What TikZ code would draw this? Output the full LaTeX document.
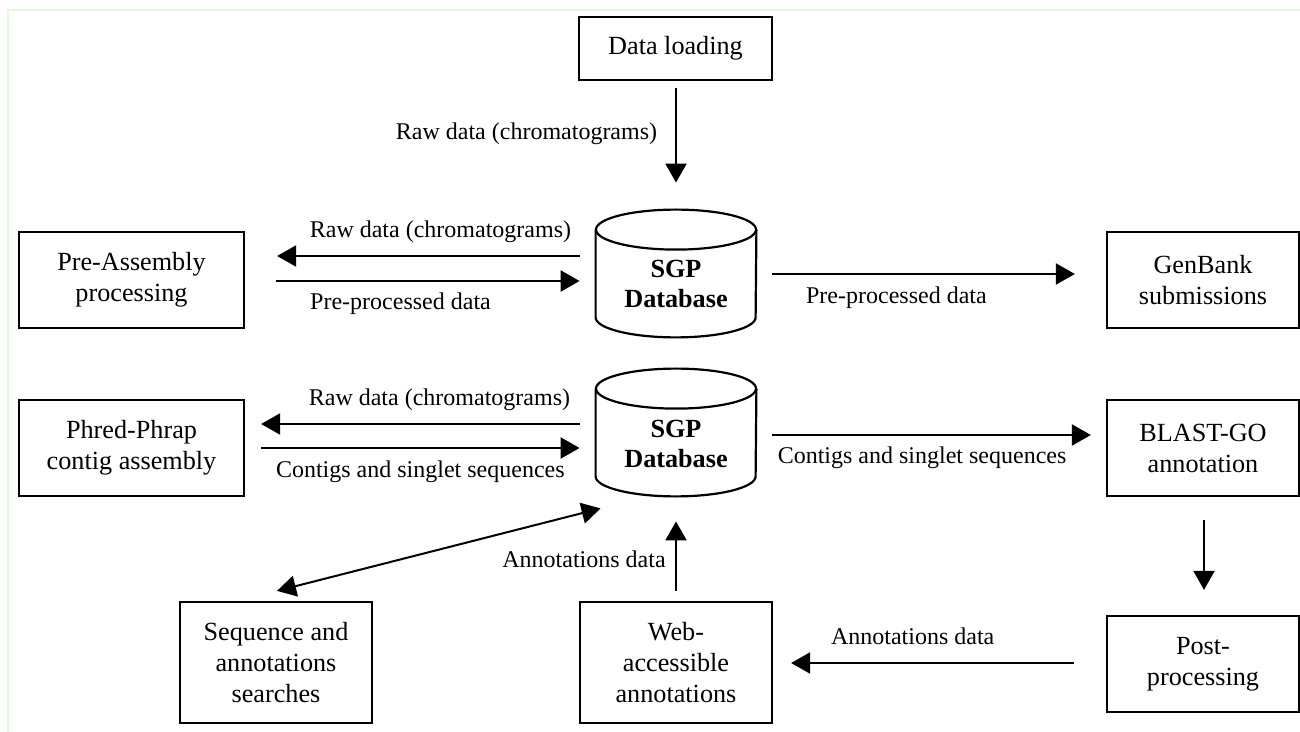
\documentclass[tikz,border=0pt]{standalone}
\usepackage{fontspec}
\setmainfont{Liberation Serif}
\usetikzlibrary{arrows.meta,calc}
\definecolor{framegreen}{HTML}{E2F9DA}
\begin{document}
\begin{tikzpicture}[x=0.5pt,y=-0.5pt,
  box/.style={draw,line width=1.1pt,inner sep=0pt,align=center,
    font=\fontsize{13.1}{15.5}\selectfont},
  dbshape/.style={inner sep=0pt,minimum width=80pt,minimum height=63.5pt},
  dbtext/.style={inner sep=0pt,align=center,font=\fontsize{13.1}{15}\selectfont\bfseries},
  lbl/.style={inner sep=0pt,font=\fontsize{12}{14}\selectfont},
  arr/.style={line width=1pt,-{Triangle[length=9.5pt,width=10.5pt]}},
  darr/.style={line width=1pt,{Triangle[length=9.5pt,width=10.5pt]}-{Triangle[length=9.5pt,width=10.5pt]}},
  cyl/.style={line width=1.1pt}
]
\useasboundingbox (0,0) rectangle (1300,732);
% frame
\draw[framegreen,line width=1.2pt] (8,732) -- (8,10) -- (1300,10);

% nodes
\node[box,minimum width=96.5pt,minimum height=31.5pt] (load) at (675.5,48.5) {Data loading};
\node[box,minimum width=112.5pt,minimum height=48pt] (pre) at (131.5,280) {Pre-Assembly\\processing};
\node[box,minimum width=112.5pt,minimum height=48pt] (phred) at (131.5,448) {Phred-Phrap\\contig assembly};
\node[box,minimum width=96pt,minimum height=48pt] (gen) at (1203,280) {GenBank\\submissions};
\node[box,minimum width=96pt,minimum height=48pt] (blast) at (1203,448) {BLAST-GO\\annotation};
\node[box,minimum width=96pt,minimum height=48pt] (post) at (1203,664) {Post-\\processing};
\node[box,minimum width=96pt,minimum height=60.5pt] (seq) at (276,662.5) {Sequence and\\annotations\\searches};
\node[box,minimum width=96pt,minimum height=60.5pt] (web) at (676,662.5) {Web-\\accessible\\annotations};

% databases
\node[dbshape] (db1) at (676,273.5) {};
\node[dbshape] (db2) at (676,432.5) {};
\foreach \d in {db1,db2}{
  \draw[cyl] ($(\d.north)+(0,20)$) ellipse [x radius=80, y radius=20];
  \draw[cyl] ($(\d.north west)+(0,20)$) -- ($(\d.south west)+(0,-20)$)
    arc[start angle=180, end angle=0, x radius=80, y radius=20]
    -- ($(\d.north east)+(0,20)$);
}
\node[dbtext] (db1t) at ($(db1.center)+(0,10)$) {SGP\\Database};
\node[dbtext] (db2t) at ($(db2.center)+(0,11)$) {SGP\\Database};

% connectors
\draw[arr] ($(load.south)+(0.5,7)$) -- ($(db1.north)+(0,-27)$)
  node[lbl,pos=0.48,xshift=-74.75pt] {Raw data (chromatograms)};
\draw[arr] ($(db1.west)+(-16,-17.5)$) -- ($(pre.east)+(32,-24)$)
  node[lbl,pos=0.46,yshift=12pt] {Raw data (chromatograms)};
\draw[arr] ($(pre.east)+(31,1)$) -- ($(db1.west)+(-16,7.5)$)
  node[lbl,pos=0.41,yshift=-11.5pt] {Pre-processed data};
\draw[arr] ($(db1.east)+(16,0.5)$) -- ($(gen.west)+(-31,-6)$)
  node[lbl,pos=0.41,yshift=-12pt] {Pre-processed data};
\draw[arr] ($(db2.west)+(-16,-8.5)$) -- ($(phred.east)+(16,-24)$)
  node[lbl,pos=0.44,yshift=12pt] {Raw data (chromatograms)};
\draw[arr] ($(phred.east)+(16,0)$) -- ($(db2.west)+(-16,15.5)$)
  node[lbl,pos=0.5,yshift=-12pt] {Contigs and singlet sequences};
\draw[arr] ($(db2.east)+(16,2.5)$) -- ($(blast.west)+(-15,-13)$)
  node[lbl,pos=0.47,yshift=-11.5pt] {Contigs and singlet sequences};
\draw[arr] ($(blast.south)+(1,23)$) -- ($(post.north)+(1,-25)$);
\draw[arr] ($(post.west)+(-32,-1)$) -- ($(web.east)+(18,0.5)$)
  node[lbl,pos=0.57,yshift=13.5pt] {Annotations data};
\draw[arr] ($(web.north)+(0,-10)$) -- ($(db2.south)+(0,25)$)
  node[lbl,pos=0.46,xshift=-46pt] {Annotations data};
\draw[darr] ($(seq.north)+(1,-10)$) -- ($(db2.south west)+(5,12)$);
\end{tikzpicture}
\end{document}
